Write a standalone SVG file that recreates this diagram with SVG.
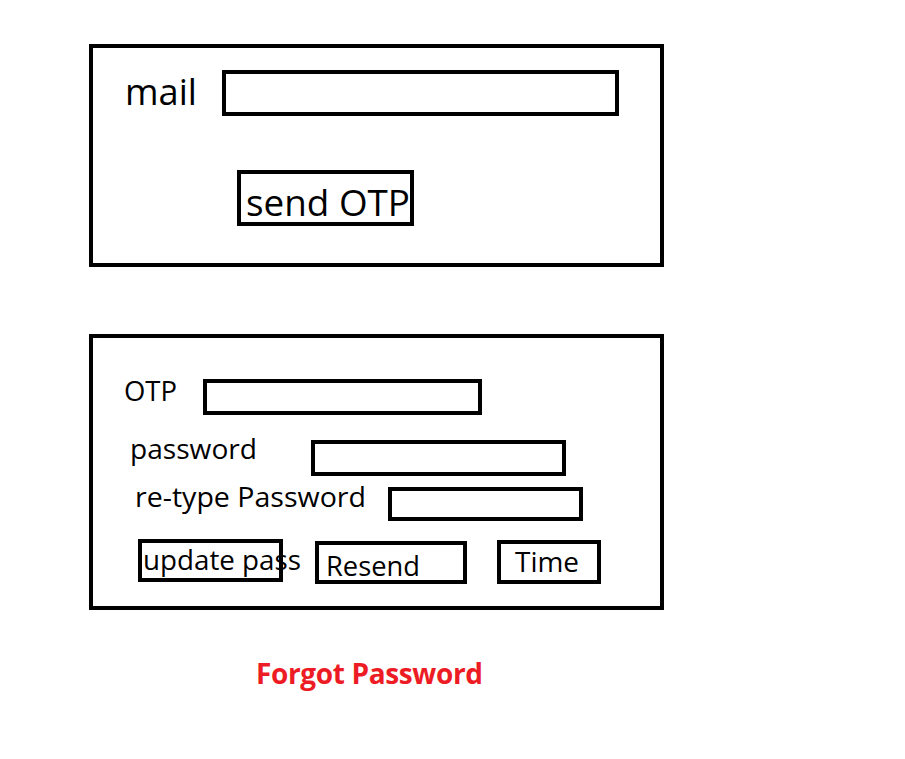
<svg xmlns="http://www.w3.org/2000/svg" width="905" height="759" viewBox="0 0 905 759">
<style>
.box{fill:none;stroke:#000;stroke-width:4}
.t{font-family:"Open Sans","Noto Sans",sans-serif;fill:#000}
.title{font-family:"Open Sans","Noto Sans",sans-serif;font-weight:bold;fill:#ED1C24;font-size:28px}
</style>
<rect width="905" height="759" fill="#fff"/>
<g id="mail-panel">
<rect class="box" x="91" y="46" width="571" height="219"/>
<text class="t" x="125" y="105" font-size="37" textLength="72" lengthAdjust="spacingAndGlyphs">mail</text>
<rect class="box" x="224" y="72" width="393" height="42"/>
<g id="send-otp">
<rect class="box" x="239" y="172" width="173" height="52"/>
<text class="t" x="246" y="216" font-size="37" textLength="164" lengthAdjust="spacingAndGlyphs">send OTP</text>
</g>
</g>
<g id="otp-panel">
<rect class="box" x="91" y="336" width="571" height="272"/>
<text class="t" x="124" y="401" font-size="28" textLength="53" lengthAdjust="spacingAndGlyphs">OTP</text>
<rect class="box" x="205" y="381" width="275" height="32"/>
<text class="t" x="130" y="459" font-size="28" textLength="127" lengthAdjust="spacingAndGlyphs">password</text>
<rect class="box" x="313" y="442" width="251" height="32"/>
<text class="t" x="135" y="507" font-size="28" textLength="231" lengthAdjust="spacingAndGlyphs">re-type Password</text>
<rect class="box" x="390" y="489" width="191" height="30"/>
<g id="update-pass">
<rect class="box" x="140" y="541" width="141" height="39"/>
<text class="t" x="143" y="570" font-size="28" textLength="158" lengthAdjust="spacingAndGlyphs">update pass</text>
</g>
<g id="resend">
<rect class="box" x="317" y="543" width="148" height="39"/>
<text class="t" x="326" y="576" font-size="28" textLength="94" lengthAdjust="spacingAndGlyphs">Resend</text>
</g>
<g id="time">
<rect class="box" x="499" y="542" width="100" height="40"/>
<text class="t" x="515" y="572" font-size="28" textLength="64" lengthAdjust="spacingAndGlyphs">Time</text>
</g>
</g>
<g id="connectors"/>
<text class="title" x="256" y="684" textLength="227">Forgot Password</text>
</svg>
